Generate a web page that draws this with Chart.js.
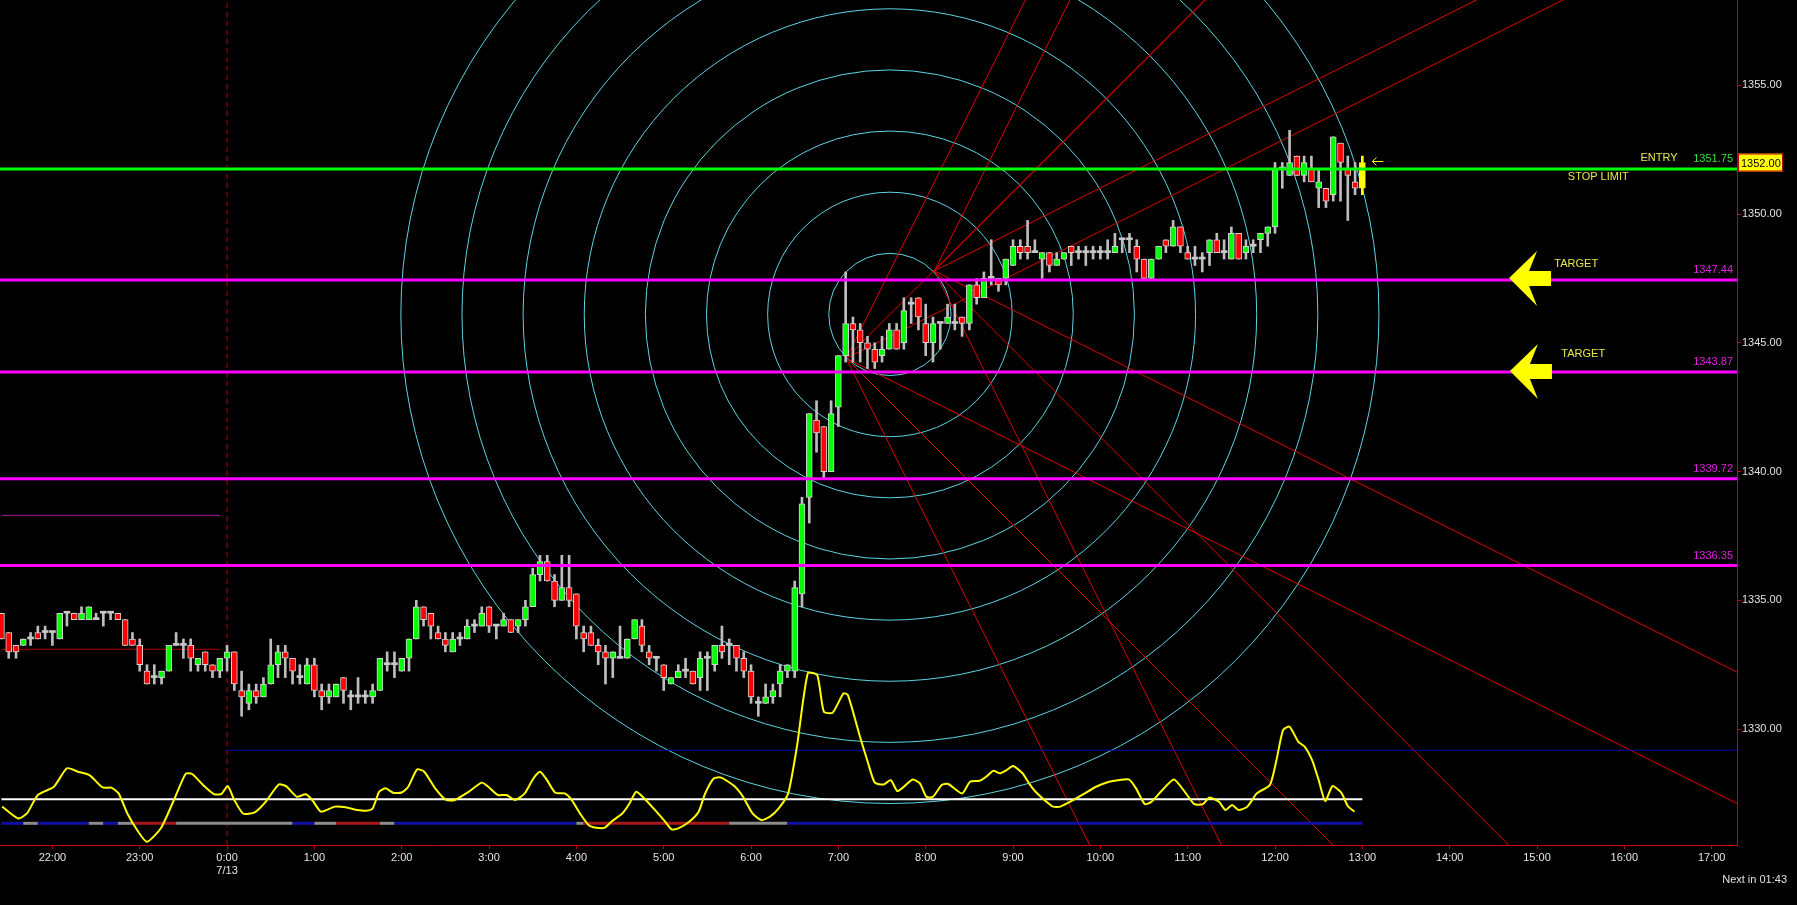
<!DOCTYPE html>
<html>
<head>
<meta charset="utf-8">
<title>5 min chart</title>
<script src="https://cdn.jsdelivr.net/npm/chart.js@4.4.1/dist/chart.umd.min.js"></script>
<style>
  html, body { margin: 0; padding: 0; background: #000; overflow: hidden; }
  #wrap { width: 1797px; height: 905px; }
</style>
</head>
<body>
<div id="wrap"><canvas id="chart"></canvas></div>
<script>
// 5 minute bars, time is in hours from 0:00 on 7/13, first bar is 21:25 the day before
const firstBarHour = -155 / 60;
const barHours = 5 / 60;

const opens = [
  1334.5,1333.75,1333.25,1333.25,1333.5,1333.75,1333.75,1333.75,1333.5,1334.5,
  1334.5,1334.25,1334.25,1334.25,1334.5,1334.5,1334.5,1334.25,1333.5,1333.25,
  1332.25,1332,1332,1332.25,1333.25,1333.25,1333.25,1332.5,1333,1332.5,
  1332.25,1332.75,1333,1331.5,1331,1331.5,1331.25,1331.75,1332.5,1333,
  1332.75,1332,1331.75,1332.5,1331.5,1331.25,1331.25,1332,1331.25,1331.25,
  1331.25,1331.25,1331.5,1332.5,1332.5,1332.25,1332.75,1333.5,1334.75,1334.5,
  1333.75,1333.5,1333,1333.5,1333.5,1334,1334,1334.75,1334,1334,
  1334.25,1334,1334.25,1334.75,1336,1336.5,1335.75,1335,1335.5,1335.25,
  1333.75,1333.75,1333.25,1333,1332.75,1332.75,1332.75,1333.5,1334,1333,
  1332.75,1332.5,1331.75,1332,1332.25,1332.25,1332,1332.75,1332.5,1333.25,
  1333.25,1333.25,1332.75,1332.25,1331,1331,1331.25,1331.75,1332.25,1332.25,
  1335.25,1339,1342,1341.75,1340,1342.5,1344.5,1345.75,1345.5,1345,
  1344.75,1344.5,1344.75,1345.5,1345,1346.5,1346.75,1345.75,1345,1345.75,
  1345.75,1345.75,1346,1345.75,1347.25,1346.75,1347.5,1347.5,1347.5,1348,
  1348.75,1348.75,1348.5,1348.25,1348.5,1348,1348.25,1348.75,1348.5,1348.5,
  1348.5,1348.5,1348.5,1348.5,1349,1349,1348.75,1348.25,1347.5,1348.25,
  1349,1348.75,1349.5,1348.5,1348.25,1348.25,1348.5,1349,1348.5,1348.25,
  1349.25,1348.5,1348.75,1349,1349.25,1349.5,1351.75,1351.5,1352.25,1351.5,
  1351.75,1351,1351,1350.75,1352.75,1351.75,1351.25,1351
];
const highs = [
  1334.5,1333.75,1333.25,1333.5,1333.75,1334,1334,1333.75,1334.5,1334.5,
  1334.5,1334.75,1334.75,1334.5,1334.5,1334.5,1334.5,1334.25,1333.75,1333.5,
  1332.5,1332.5,1332.25,1333.25,1333.75,1333.5,1333.5,1332.75,1333,1332.5,
  1332.75,1333.25,1333,1332.25,1331.75,1331.75,1332,1333.5,1333.25,1333.25,
  1332.75,1332.5,1332.75,1332.75,1331.75,1331.75,1331.75,1332,1331.5,1332,
  1331.5,1331.75,1332.75,1333,1333,1332.75,1333.5,1335,1334.75,1334.5,
  1334,1333.75,1333.75,1333.75,1334.25,1334.25,1334.75,1334.75,1334,1334.5,
  1334.25,1334.25,1335,1336.25,1336.75,1336.75,1336,1336.75,1336.75,1335.25,
  1334,1334,1333.5,1333.25,1333,1334,1333.5,1334.25,1334.25,1333.25,
  1332.75,1332.5,1332,1332.5,1332.75,1332.25,1333,1333,1333.25,1334,
  1333.5,1333.25,1333,1332.5,1331.25,1331.75,1331.75,1332.5,1332.5,1335.75,
  1339,1342.25,1342.75,1341.75,1342.75,1344.5,1347.75,1346,1345.75,1345.25,
  1345,1345.25,1345.75,1345.75,1346.75,1346.75,1346.75,1346.5,1346,1345.75,
  1346.5,1346.5,1346,1347.25,1347.5,1347.75,1349,1347.5,1348.25,1349,
  1349,1349.75,1349,1348.5,1348.5,1348.5,1348.5,1348.75,1348.75,1348.75,
  1348.75,1348.75,1349,1349.25,1349,1349.25,1349,1348.25,1348.25,1348.75,
  1349,1349.75,1349.5,1348.75,1348.75,1348.5,1349,1349.25,1349,1349.5,
  1349.25,1349,1349,1349.25,1349.5,1352,1352,1353.25,1352.25,1352.25,
  1352.25,1351.75,1351,1353,1352.75,1352.25,1352,1352.25
];
const lows = [
  1333.5,1332.75,1332.75,1333.25,1333.25,1333.5,1333.5,1333.25,1333.5,1334,
  1334.25,1334.25,1334.25,1334.25,1334,1334.25,1334.25,1333.25,1333.25,1332.25,
  1331.75,1331.75,1331.75,1332.25,1333.25,1332.75,1332.25,1332.25,1332.25,1332,
  1332,1332.25,1331.5,1330.5,1330.75,1331,1331.25,1331.75,1332,1332,
  1331.75,1331.75,1331.75,1331.25,1330.75,1331,1331.25,1331,1330.75,1331,
  1331,1331,1331.5,1332.25,1332,1332.25,1332.25,1333.5,1334,1333.5,
  1333.5,1333,1333,1333.25,1333.5,1333.75,1334,1333.75,1333.5,1334,
  1333.75,1333.75,1334,1334.75,1335.75,1335.75,1334.75,1335,1334.75,1333.5,
  1333,1333.25,1332.5,1331.75,1332,1332.75,1332.75,1333.5,1333,1332.5,
  1332.25,1331.5,1331.75,1332,1332,1331.75,1331.5,1331.5,1332.25,1332.75,
  1332.5,1332.25,1332,1331,1330.5,1331,1331,1331.25,1332,1332,
  1334.75,1338,1340.75,1339.75,1340,1341.75,1344.25,1344.25,1344.25,1344,
  1344,1344.25,1344.75,1344.75,1344.75,1345.75,1345.5,1344.5,1344.25,1344.75,
  1345.75,1345.5,1345.25,1345.5,1346.5,1346.75,1347.25,1347,1347.25,1348,
  1348.25,1348.25,1348.5,1347.5,1347.75,1348,1348.25,1348,1348.25,1348,
  1348.25,1348.25,1348.25,1348.5,1348.5,1348.5,1347.75,1347.5,1347.5,1348.25,
  1348.5,1348.75,1348.5,1348.25,1348,1347.75,1348,1348.5,1348.25,1348.25,
  1348.25,1348.25,1348.5,1348.5,1348.75,1349.25,1351,1351.5,1351.5,1351.25,
  1351.25,1350.25,1350.25,1350.5,1350.5,1349.75,1350.75,1350.75
];
const closes = [
  1333.5,1333,1333,1333.5,1333.5,1333.5,1333.75,1333.75,1334.5,1334.5,
  1334.25,1334.5,1334.75,1334.25,1334.5,1334.5,1334.25,1333.25,1333.25,1332.5,
  1331.75,1332,1332.25,1333.25,1333.25,1333.25,1332.75,1332.75,1332.5,1332.25,
  1332.75,1333,1331.75,1331.25,1331.5,1331.25,1331.75,1332.5,1333,1332.75,
  1332.25,1332,1332.5,1331.5,1331.25,1331.5,1331.75,1331.5,1331.25,1331.25,
  1331.25,1331.5,1332.75,1332.5,1332.5,1332.75,1333.5,1334.75,1334.25,1334,
  1333.5,1333.25,1333.5,1333.5,1334,1334,1334.5,1334,1334,1334.25,
  1333.75,1334.25,1334.75,1336,1336.5,1335.75,1335,1335.5,1335,1334,
  1333.5,1333.25,1333,1332.75,1333,1332.75,1333.5,1334.25,1333.25,1332.75,
  1332.75,1332,1332,1332.25,1332.25,1331.75,1332.75,1332.75,1333.25,1333,
  1333.25,1332.75,1332.25,1331.25,1331,1331.25,1331.5,1332.25,1332.5,1335.5,
  1338.75,1342.25,1341.5,1340,1342.25,1344.5,1345.75,1345.5,1345,1344.75,
  1344.25,1344.75,1345.5,1344.75,1346.25,1346.5,1346,1345,1345.75,1345.75,
  1346,1345.75,1345.75,1347.25,1346.75,1347.5,1347.5,1347.25,1348.25,1348.75,
  1348.5,1348.5,1348.5,1348.5,1348,1348.25,1348.5,1348.5,1348.5,1348.5,
  1348.5,1348.5,1348.5,1348.75,1349,1349,1348.25,1347.5,1348.25,1348.75,
  1348.75,1349.5,1348.75,1348.25,1348.25,1348.25,1349,1348.5,1348.5,1349.25,
  1348.25,1348.75,1348.75,1349.25,1349.5,1351.75,1351.75,1352,1351.5,1352,
  1351.25,1351.25,1350.5,1353,1352,1351.5,1351,1352
];

// drawn levels
const entryPrice = 1351.75;
const targetPrices = [1347.44, 1343.87, 1339.72, 1336.35];
const lastPrice = 1352.00;
const prevClosePrice = 1333.1;
const prevPurplePrice = 1338.3;
const prevLinesEnd = -5 / 60;

// oscillator in the lower part, read at bar positions (bar index, value)
const oscBars = [
  0.1,2.3,3.5,5.0,7.2,9.0,10.5,12.1,13.9,15.1,16.1,17.3,18.8,20.0,21.9,23.7,25.3,26.2,27.7,29.2,
  30.2,31.1,32.0,33.2,34.8,36.3,38.1,39.1,40.6,41.8,42.7,43.9,45.8,47.3,48.9,50.1,51.0,51.9,52.8,53.8,
  55.0,55.9,57.1,58.1,59.6,61.1,62.3,64.2,66.0,66.9,68.2,69.4,70.6,71.9,73.1,74.0,74.9,76.1,77.4,78.3,
  79.5,80.7,81.7,82.9,83.8,85.3,86.3,87.2,88.1,90.0,91.2,92.1,93.0,94.5,95.8,96.7,97.9,98.9,100.7,101.9,
  103.2,104.4,105.6,106.8,108.1,109.3,110.8,112.1,113.0,114.2,115.7,116.3,117.9,119.1,120.0,121.2,122.2,123.1,124.0,125.2,
  126.2,127.1,128.0,129.2,130.1,132.0,133.1,134.4,135.3,136.3,137.2,138.1,139.0,140.3,141.2,142.1,143.6,144.5,145.5,147.3,
  148.5,150.4,152.2,153.4,154.9,155.9,157.1,158.0,159.3,161.1,162.6,163.9,165.1,166.0,167.3,168.2,169.1,170.0,171.2,172.5,
  174.3,175.2,176.1,177.0,178.2,179.1,180.1,181.0,181.9,182.9,184.1,185.0,185.9
];
const oscValues = [
  -3.2,-8.4,-6.2,1.9,5.5,13.6,12.1,10.6,5.2,5.1,2.6,-6.2,-14.2,-18.6,-12.7,-0.3,11.1,11.1,6.3,2.3,
  2.3,5.8,-0.3,-6.2,-5.7,-1.1,6.5,5.8,1.1,2.2,-0.3,-5.4,-3.2,-3.5,-4.7,-5.0,-4.0,3.3,4.8,2.9,
  3.0,5.5,13.1,12.1,4.8,-0.3,-0.3,3.3,7.3,5.5,1.9,1.9,-0.3,2.6,9.2,12.1,8.7,2.9,2.6,0.0,
  -6.2,-11.3,-12.4,-12.4,-9.8,-6.2,-1.8,3.3,1.1,-5.4,-9.8,-13.2,-12.7,-9.8,-5.4,2.6,9.2,9.5,5.8,1.1,
  -6.2,-9.1,-7.6,-4.0,2.6,23.0,55.2,54.4,38.4,37.9,46.4,45.7,28.2,15.7,7.3,6.5,8.4,3.6,5.5,8.7,
  7.0,1.1,1.1,6.3,6.7,2.6,7.7,8.1,9.9,12.5,11.4,12.8,14.6,11.4,7.0,3.3,-1.1,-3.2,-3.2,-0.3,
  1.9,5.5,7.7,8.4,8.7,4.8,-2.1,-1.1,3.3,8.7,3.3,-2.1,-2.1,0.8,-1.1,-4.7,-2.5,-4.7,-3.2,2.6,
  6.3,17.2,30.3,31.8,25.2,23.0,17.2,8.4,-0.8,5.8,2.9,-2.9,-5.4
];
const oscZero = 0;
const oscUpper = 21.5;
const oscLower = -10.5;

// state strip on the lower oscillator level: bar index breaks and the state of each piece
const stateBreaks = [0,3,5,12,14,16,18,24,40,43,46,52,54,79,80,100,108,187];
const stateNames = ['on','off','on','off','on','off','fire','off','on','off','fire','off','on','off','fire','off','on'];

// two gann fans, ratios of the 1x1 angle, 1x1 in points per hour
const fanAnchorHours = [7.09, 8.10];
const fanAnchorPrices = [1344.40, 1347.79];
const fanRatios = [0.5, 1, 2, -0.5, -1, -2];
const gann1x1 = 3.39;

// concentric circles
const circleHour = 7.59;
const circlePrice = 1346.1;
const circleStepHours = 0.70;
const circleCount = 8;

const xMin = -2.6, xMax = 17.29;
const yMin = 1325.5, yMax = 1358.31;

const barHour = i => firstBarHour + i * barHours;
const lastBar = closes.length - 1;

const bodyColor = i => {
  if (i === lastBar) return '#ffff00';
  if (closes[i] > opens[i]) return '#00ff00';
  if (closes[i] < opens[i]) return '#ff0000';
  return '#c8c8c8';
};

const flatLine = (x0, x1, p) => [{ x: x0, y: p }, { x: x1, y: p }];

const fanSets = [];
fanAnchorHours.forEach((t, a) => {
  fanRatios.forEach(r => {
    fanSets.push({
      type: 'line',
      data: [{ x: t, y: fanAnchorPrices[a] }, { x: xMax, y: fanAnchorPrices[a] + r * gann1x1 * (xMax - t) }],
      borderColor: '#e00000', borderWidth: 1, pointRadius: 0, order: 20
    });
  });
});

const stateColor = { on: '#1010a8', off: '#8c8c8c', fire: '#a81818' };

Chart.defaults.font.family = 'Liberation Sans';
Chart.defaults.font.size = 11;

const drawings = {
  id: 'drawings',
  beforeDatasetsDraw(chart) {
    const { ctx, chartArea: a, scales: { x, y } } = chart;
    const cx = x.getPixelForValue(circleHour);
    const cy = y.getPixelForValue(circlePrice);
    const step = x.getPixelForValue(circleHour + circleStepHours) - cx;
    ctx.save();
    ctx.beginPath();
    ctx.rect(a.left, a.top, a.width, a.height);
    ctx.clip();
    ctx.strokeStyle = '#5ed4e2';
    ctx.lineWidth = 1;
    for (let k = 1; k <= circleCount; k++) {
      ctx.beginPath();
      ctx.arc(cx, cy, step * k, 0, Math.PI * 2);
      ctx.stroke();
    }
    ctx.restore();
  },
  afterDraw(chart) {
    const { ctx, chartArea: a, scales: { x, y } } = chart;
    ctx.save();
    ctx.font = '11px "Liberation Sans"';
    ctx.textBaseline = 'middle';

    // big yellow arrows at the first two targets
    const arrow = (tx, ty) => {
      ctx.fillStyle = '#ffff00';
      ctx.beginPath();
      ctx.moveTo(tx, ty);
      ctx.lineTo(tx + 28, ty - 27);
      ctx.lineTo(tx + 20, ty - 7);
      ctx.lineTo(tx + 42, ty - 7);
      ctx.lineTo(tx + 42, ty + 8);
      ctx.lineTo(tx + 20, ty + 8);
      ctx.lineTo(tx + 28, ty + 28);
      ctx.closePath();
      ctx.fill();
    };
    arrow(x.getPixelForValue(14.68), y.getPixelForValue(targetPrices[0]) - 2);
    arrow(x.getPixelForValue(14.69), y.getPixelForValue(targetPrices[1]) - 1);

    // text tags
    ctx.textAlign = 'right';
    ctx.fillStyle = '#e8e84a';
    ctx.fillText('ENTRY', x.getPixelForValue(16.61), y.getPixelForValue(entryPrice) - 11);
    ctx.fillText('STOP LIMIT', x.getPixelForValue(16.05), y.getPixelForValue(entryPrice) + 8);
    ctx.fillText('TARGET', x.getPixelForValue(15.70), y.getPixelForValue(targetPrices[0]) - 16);
    ctx.fillText('TARGET', x.getPixelForValue(15.78), y.getPixelForValue(targetPrices[1]) - 18);
    ctx.fillStyle = '#3ce03c';
    ctx.fillText(entryPrice.toFixed(2), a.right - 4, y.getPixelForValue(entryPrice) - 10);
    ctx.fillStyle = '#e020e0';
    targetPrices.forEach(p => ctx.fillText(p.toFixed(2), a.right - 4, y.getPixelForValue(p) - 10));

    // last price marker on the axis
    const ly = y.getPixelForValue(lastPrice);
    ctx.fillStyle = '#ffff00';
    ctx.fillRect(a.right + 1, ly - 9, 45, 18);
    ctx.strokeStyle = '#c00000';
    ctx.lineWidth = 1;
    ctx.strokeRect(a.right + 1.5, ly - 8.5, 44, 17);
    ctx.fillStyle = '#000';
    ctx.textAlign = 'left';
    ctx.fillText(lastPrice.toFixed(2), a.right + 4, ly + 1);

    // small arrow next to the last bar
    const ax = x.getPixelForValue(barHour(lastBar)) + 10;
    ctx.strokeStyle = '#ffff00';
    ctx.beginPath();
    ctx.moveTo(ax, ly - 1); ctx.lineTo(ax + 11, ly - 1);
    ctx.moveTo(ax, ly - 1); ctx.lineTo(ax + 4, ly - 5);
    ctx.moveTo(ax, ly - 1); ctx.lineTo(ax + 4, ly + 3);
    ctx.stroke();

    ctx.fillStyle = '#e0e0e0';
    ctx.textAlign = 'right';
    ctx.fillText('Next in 01:43', chart.width - 10, a.bottom + 35);
    ctx.restore();
  }
};

const hourLabel = v => {
  const h = ((v % 24) + 24) % 24;
  const s = h + ':00';
  return v === 0 ? [s, '7/13'] : s;
};

new Chart(document.getElementById('chart'), {
  type: 'bar',
  data: {
    datasets: [
      ...fanSets,
      {
        type: 'line',
        data: [{ x: 0, y: yMin }, { x: 0, y: yMax }],
        borderColor: '#b00000', borderWidth: 1, borderDash: [5, 4], pointRadius: 0, order: 19
      },
      {
        type: 'line', data: flatLine(barHour(0), prevLinesEnd, prevClosePrice),
        borderColor: '#b00000', borderWidth: 1, pointRadius: 0, order: 18
      },
      {
        type: 'line', data: flatLine(barHour(0), prevLinesEnd, prevPurplePrice),
        borderColor: '#9a1a9a', borderWidth: 1, pointRadius: 0, order: 18
      },
      {
        type: 'bar',
        data: closes.map((c, i) => ({ x: barHour(i), y: [lows[i], highs[i]] })),
        backgroundColor: closes.map((c, i) => i === lastBar ? '#ffff00' : '#bdbdbd'),
        borderWidth: 0, barThickness: 2, grouped: false, order: 12
      },
      {
        type: 'bar',
        data: closes.map((c, i) => ({ x: barHour(i), y: [opens[i], c] })),
        backgroundColor: closes.map((c, i) => bodyColor(i)),
        borderColor: closes.map((c, i) => i === lastBar ? '#ffff00' : (c === opens[i] ? '#c8c8c8' : '#d4d4d4')),
        borderWidth: closes.map((c, i) => c === opens[i] ? 0 : 1),
        borderSkipped: false, barThickness: 6, minBarLength: 2, grouped: false, order: 11
      },
      {
        type: 'line', data: flatLine(xMin, xMax, entryPrice),
        borderColor: '#00ff00', borderWidth: 3, pointRadius: 0, order: 6
      },
      ...targetPrices.map(p => ({
        type: 'line', data: flatLine(xMin, xMax, p),
        borderColor: '#ff00ff', borderWidth: 3, pointRadius: 0, order: 6
      })),
      {
        type: 'line', yAxisID: 'osc', data: flatLine(0, xMax, oscUpper),
        borderColor: '#0000b4', borderWidth: 1, pointRadius: 0, order: 4
      },
      {
        type: 'line', yAxisID: 'osc', data: flatLine(barHour(0), barHour(lastBar), oscZero),
        borderColor: '#ffffff', borderWidth: 2, pointRadius: 0, order: 4
      },
      {
        type: 'line', yAxisID: 'osc',
        data: stateBreaks.map(b => ({ x: barHour(b), y: oscLower })),
        borderWidth: 3, pointRadius: 0, order: 3,
        borderColor: stateColor.on,
        segment: { borderColor: c => stateColor[stateNames[c.p0DataIndex]] }
      },
      {
        type: 'line', yAxisID: 'osc',
        data: oscBars.map((b, i) => ({ x: barHour(b), y: oscValues[i] })),
        borderColor: '#ffff00', borderWidth: 2, pointRadius: 0, tension: 0.2, order: 1
      }
    ]
  },
  options: {
    responsive: true,
    maintainAspectRatio: false,
    animation: false,
    events: [],
    layout: { padding: 0 },
    plugins: { legend: { display: false }, tooltip: { enabled: false } },
    scales: {
      x: {
        type: 'linear', min: xMin, max: xMax, offset: false,
        ticks: {
          stepSize: 1, includeBounds: false, autoSkip: false, maxRotation: 0,
          color: '#e4e4e4', padding: 2, callback: hourLabel
        },
        grid: { drawOnChartArea: false, tickLength: 4, color: '#c00000', offset: false },
        border: { color: '#d00000', width: 1 },
        afterFit: s => { s.height = 60; s.paddingLeft = 0; s.paddingRight = 0; }
      },
      y: {
        type: 'linear', position: 'right', min: yMin, max: yMax,
        ticks: {
          stepSize: 5, includeBounds: false, color: '#e4e4e4', padding: 1,
          callback: v => v.toFixed(2)
        },
        grid: { drawOnChartArea: false, tickLength: 4, color: '#c00000' },
        border: { color: '#d00000', width: 1 },
        afterFit: s => { s.width = 60; s.paddingTop = 0; s.paddingBottom = 0; }
      },
      osc: { type: 'linear', display: false, min: -20, max: 350 }
    }
  },
  plugins: [drawings]
});
</script>
</body>
</html>
